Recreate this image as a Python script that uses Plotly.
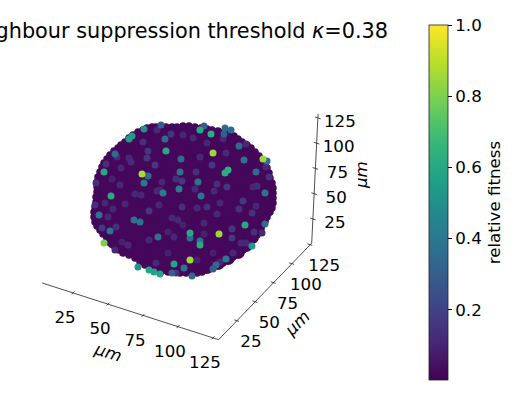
import plotly.graph_objects as go

############ Data ##############
# The cell positions are read off the picture as projected (screen plane) positions
# base layer, near-zero fitness: rim of the ball
rim_u = [160, 172, 183, 195, 207, 218, 230, 238, 247, 255, 263, 267, 270, 273, 273, 272, 267, 262, 257, 250,
         243, 233, 223, 213, 202, 192, 180, 168, 157, 145, 135, 123, 115, 107, 100, 95, 94, 96, 97, 97,
         100, 104, 110, 118, 125, 133, 143, 152,
         166, 177, 189, 201, 212, 224, 234, 242, 251, 259, 265, 269, 272, 273, 273, 270, 265, 260, 254, 247,
         238, 228, 218, 207, 197, 186, 174, 162, 151, 140, 129, 119, 111, 103, 97, 94, 95, 96, 97, 98,
         102, 107, 114, 121, 129, 138, 147, 156]
rim_v = [127, 127, 126, 127, 129, 131, 134, 139, 145, 152, 160, 168, 178, 188, 198, 208, 217, 225, 235, 243,
         250, 257, 263, 267, 272, 273, 273, 272, 269, 265, 258, 253, 247, 238, 230, 222, 212, 202, 192, 182,
         172, 163, 155, 148, 142, 135, 130, 127,
         127, 127, 126, 128, 130, 132, 136, 142, 148, 156, 164, 173, 183, 193, 203, 212, 221, 230, 239, 246,
         253, 260, 265, 269, 273, 273, 272, 271, 267, 262, 255, 250, 242, 234, 226, 217, 207, 197, 187, 177,
         167, 159, 151, 145, 138, 132, 128, 127]
# base layer: second ring just inside the rim
ring_u = [166, 178, 190, 202, 213, 224, 234, 243, 251, 258, 263, 266, 268, 268, 266, 262, 258, 252, 246, 238,
          228, 218, 207, 196, 185, 174, 162, 150, 140, 128, 120, 112, 105, 100, 99, 101, 102, 105, 109, 114,
          121, 128, 136, 146, 156]
ring_v = [132, 132, 131, 133, 136, 139, 143, 149, 156, 163, 172, 182, 192, 202, 211, 219, 228, 237, 245, 252,
          258, 263, 267, 268, 268, 267, 264, 260, 254, 248, 242, 234, 226, 218, 208, 197, 187, 177, 168, 160,
          153, 147, 140, 134, 132]
# base layer: filling inside the rings
fill_u = [145, 165, 185, 205, 225,
          120, 140, 160, 180, 200, 220, 240,
          112, 132, 152, 172, 192, 212, 232, 252,
          110, 130, 150, 170, 190, 210, 230, 250, 258,
          110, 130, 150, 170, 190, 210, 230, 252,
          118, 138, 158, 178, 198, 218, 238,
          145, 165, 185, 205, 222,
          175, 195]
fill_v = [145, 145, 145, 145, 145,
          163, 163, 163, 163, 163, 163, 163,
          181, 181, 181, 181, 181, 181, 181, 181,
          199, 199, 199, 199, 199, 199, 199, 199, 199,
          217, 217, 217, 217, 217, 217, 217, 217,
          235, 235, 235, 235, 235, 235, 235,
          248, 248, 248, 248, 248,
          258, 258]
# faint purple cells
faint_u = [171, 143, 148, 147, 129, 131, 155, 117, 106, 121, 196, 200, 212, 217, 227, 243, 239, 220, 214, 195,
           176, 182, 157, 135, 141, 120, 112, 96, 95, 105, 113, 125, 149, 159, 182, 197, 207, 217, 178, 172,
           204, 232, 232, 241, 254, 262, 256, 252, 257, 253, 269, 266, 226, 223, 246, 193, 207, 183, 157, 102,
           108, 116, 128, 115, 156, 168, 174, 183, 168, 149, 122, 213, 233, 246, 197, 220, 176, 204, 162, 160]
faint_v = [134, 142, 151, 158, 158, 162, 165, 157, 164, 168, 172, 157, 165, 184, 187, 201, 209, 203, 191, 189,
           179, 181, 191, 194, 195, 185, 179, 183, 205, 203, 209, 204, 211, 205, 207, 208, 207, 214, 220, 218,
           223, 229, 238, 243, 232, 233, 206, 213, 186, 187, 177, 167, 153, 139, 144, 138, 143, 135, 130, 228,
           217, 227, 245, 250, 263, 253, 237, 225, 232, 240, 242, 253, 253, 243, 260, 262, 273, 234, 182, 190]
faint_fitness = [0.16, 0.14, 0.16, 0.16, 0.11, 0.12, 0.16, 0.11, 0.14, 0.11, 0.14, 0.11, 0.16, 0.14, 0.16, 0.16, 0.14, 0.11, 0.11, 0.11,
                 0.14, 0.16, 0.11, 0.11, 0.11, 0.11, 0.09, 0.14, 0.14, 0.11, 0.11, 0.11, 0.16, 0.11, 0.14, 0.11, 0.14, 0.11, 0.11, 0.11,
                 0.11, 0.16, 0.16, 0.11, 0.14, 0.11, 0.11, 0.14, 0.14, 0.11, 0.14, 0.11, 0.11, 0.11, 0.11, 0.11, 0.11, 0.11, 0.11, 0.16,
                 0.11, 0.14, 0.11, 0.11, 0.11, 0.09, 0.11, 0.09, 0.09, 0.11, 0.09, 0.09, 0.11, 0.11, 0.09, 0.11, 0.14, 0.09, 0.11, 0.11]
# blue cells
blue_u = [165, 181, 180, 148, 144, 163, 179, 198, 201, 115, 99, 110, 134, 140, 158, 190, 200, 226, 265, 244,
          256, 239, 224, 231, 225, 204, 161, 267, 265, 184, 216, 192, 172, 213]
blue_v = [139, 159, 172, 176, 183, 193, 189, 182, 196, 154, 215, 231, 220, 222, 237, 238, 241, 259, 193, 160,
          172, 146, 134, 130, 128, 126, 125, 161, 224, 268, 265, 276, 273, 269]
blue_fitness = [0.35, 0.35, 0.38, 0.35, 0.4, 0.42, 0.42, 0.38, 0.38, 0.35, 0.38, 0.38, 0.38, 0.38, 0.38, 0.35, 0.38, 0.42, 0.38, 0.38,
                0.35, 0.35, 0.3, 0.35, 0.35, 0.3, 0.3, 0.35, 0.35, 0.38, 0.35, 0.35, 0.3, 0.3]
# teal and green cells
green_u = [166, 211, 200, 132, 129, 104, 111, 225, 228, 245, 190, 200, 174, 144, 252, 138, 149, 154, 160]
green_v = [151, 134, 130, 136, 139, 172, 196, 173, 170, 225, 233, 245, 264, 129, 246, 267, 270, 272, 274]
green_fitness = [0.6, 0.62, 0.6, 0.55, 0.55, 0.6, 0.6, 0.62, 0.62, 0.6, 0.6, 0.6, 0.58, 0.5, 0.55, 0.5, 0.58, 0.58, 0.58]
# brightest cells
bright_u = [213, 263, 142, 219, 190, 104]
bright_v = [153, 159, 174, 234, 260, 243]
bright_fitness = [0.85, 0.85, 0.87, 0.85, 0.85, 0.8]

axis_ticks = [25, 50, 75, 100, 125]
tick_labels = ["25", "50", "75", "100", "125"]
colorbar_ticks = [0.2, 0.4, 0.6, 0.8, 1.0]
x_limits = [3, 129]
y_limits = [0, 127]
z_limits = [1, 129]

TITLE = "Neighbour suppression threshold <i>κ</i>=0.38"
FONT = "DejaVu Sans"


# Same view as the picture: micrometres to screen position
def project(x, y, z):
    u = 42.2 + 1.40 * (x - 3) + 0.733 * y + 0.05 * (z - 1)
    v = 283 + 0.45 * (x - 3) - 0.76 * y - 1.01 * (z - 1)
    return u, v


def segments(starts_ends):
    us, vs = [], []
    for a, b in starts_ends:
        ua, va = project(*a)
        ub, vb = project(*b)
        us += [ua, ub, None]
        vs += [va, vb, None]
    return us, vs


x_max, y_max, z_min = x_limits[1], y_limits[1], z_limits[0]
axis_lines = [
    ((x_limits[0], 0, z_min), (x_max, 0, z_min)),
    ((x_max, 0, z_min), (x_max, y_max, z_min)),
    ((x_max, y_max, z_min), (x_max, y_max, z_limits[1])),
]
tick_marks = []
for t in axis_ticks:
    tick_marks.append(((t, -2, z_min), (t, 2, z_min)))
    tick_marks.append(((x_max - 2, t, z_min), (x_max + 1.5, t, z_min)))
    tick_marks.append(((x_max - 2, y_max, t), (x_max + 2, y_max, t)))

fig = go.Figure()

# 3D axes
line_u, line_v = segments(axis_lines + tick_marks)
fig.add_trace(go.Scatter(x=line_u, y=line_v, mode="lines", line=dict(color="#222222", width=0.8), hoverinfo="skip"))

# tick labels
label_u, label_v, label_text = [], [], []
for t, lab in zip(axis_ticks, tick_labels):
    for pos, du, dv in [((t, 0, z_min), -8, 26), ((x_max, t, z_min), 14, 22), ((x_max, y_max, t), 22, 5)]:
        u, v = project(*pos)
        label_u.append(u + du)
        label_v.append(v + dv)
        label_text.append(lab)
fig.add_trace(
    go.Scatter(
        x=label_u,
        y=label_v,
        mode="text",
        text=label_text,
        textposition="middle center",
        textfont=dict(family=FONT, size=16.7, color="black"),
        hoverinfo="skip",
    )
)

# cells, dark ones first
cell_u = fill_u + ring_u + rim_u + faint_u + blue_u + green_u + bright_u
cell_v = fill_v + ring_v + rim_v + faint_v + blue_v + green_v + bright_v
cell_fitness = [0.02] * (len(fill_u) + len(ring_u) + len(rim_u)) + faint_fitness + blue_fitness + green_fitness + bright_fitness
cell_size = (
    [30] * len(fill_u)
    + [14] * len(ring_u)
    + [7.5] * len(rim_u)
    + [7] * (len(faint_u) + len(blue_u) + len(green_u) + len(bright_u))
)

fig.add_trace(
    go.Scatter(
        x=cell_u,
        y=cell_v,
        mode="markers",
        marker=dict(
            color=cell_fitness,
            size=cell_size,
            opacity=1,
            colorscale="Viridis",
            cmin=0.003,
            cmax=1.0,
            line=dict(width=0),
            colorbar=dict(
                x=429 / 531,
                xanchor="left",
                xpad=0,
                y=(399 - 202.5) / 399,
                yanchor="middle",
                ypad=0,
                len=355,
                lenmode="pixels",
                thickness=18.5,
                thicknessmode="pixels",
                outlinewidth=0.8,
                outlinecolor="#222222",
                tickmode="array",
                tickvals=colorbar_ticks,
                ticktext=[f"{t:.1f}" for t in colorbar_ticks],
                ticks="outside",
                ticklen=4,
                tickwidth=0.8,
                tickcolor="black",
                tickfont=dict(family=FONT, size=16.7, color="black"),
                title=dict(text="relative fitness", side="right", font=dict(family=FONT, size=16.7, color="black")),
            ),
        ),
    )
)

# axis names
for text, u, v, angle in [("<i>μm</i>", 108, 352, 18), ("<i>μm</i>", 297, 323, -45), ("<i>μm</i>", 361, 175, -90)]:
    fig.add_annotation(
        x=u,
        y=v,
        xref="x",
        yref="y",
        text=text,
        textangle=angle,
        showarrow=False,
        font=dict(family=FONT, size=16.7, color="black"),
    )

fig.update_layout(
    width=531,
    height=399,
    margin=dict(l=0, r=0, t=0, b=0),
    paper_bgcolor="white",
    plot_bgcolor="white",
    showlegend=False,
    title=dict(
        text=TITLE,
        x=388 / 531,
        xanchor="right",
        y=(399 - 31) / 399,
        yanchor="middle",
        font=dict(family=FONT, size=20.8, color="black"),
    ),
    xaxis=dict(visible=False, range=[0, 531], fixedrange=True),
    yaxis=dict(visible=False, range=[399, 0], fixedrange=True),
)

# page margin off, so the figure fills the window
fig.write_html("out.html", config={"displayModeBar": False}, post_script="document.body.style.margin = '0';")
